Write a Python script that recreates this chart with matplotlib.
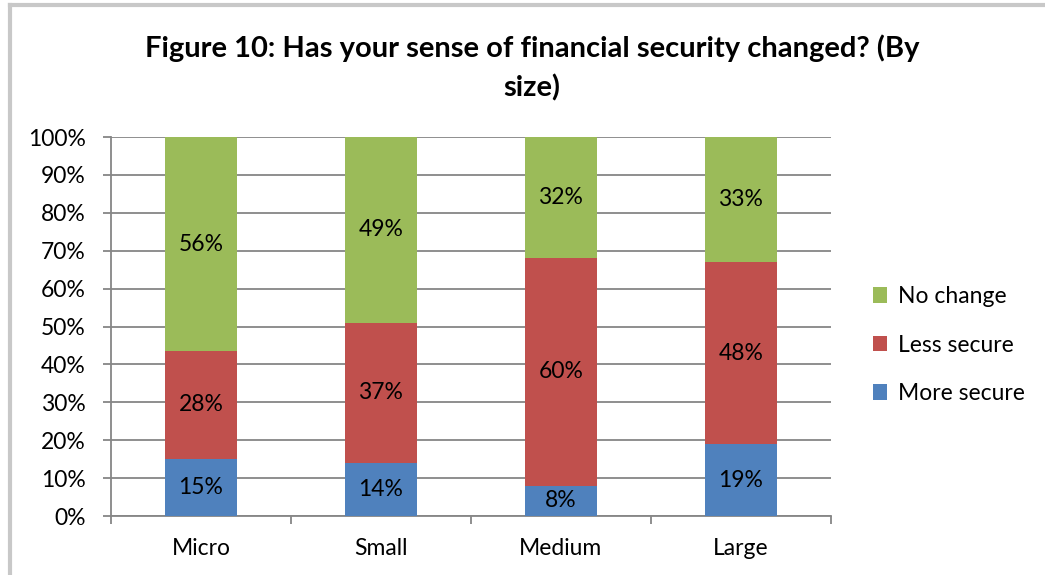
import matplotlib.pyplot as plt
from matplotlib.lines import Line2D
import numpy as np

plt.rcParams['font.family'] = ['Lato', 'DejaVu Sans']

sizes = ['Micro', 'Small', 'Medium', 'Large']
more_secure = [15, 14, 8, 19]
less_secure = [28, 37, 60, 48]
no_change = [56, 49, 32, 33]
series = [('More secure', more_secure, '#4F81BD'),
          ('Less secure', less_secure, '#C0504D'),
          ('No change', no_change, '#9BBB59')]
yticks = np.arange(0, 101, 10)

totals = np.sum([s[1] for s in series], axis=0)
x = np.arange(len(sizes))
fs = 16.5

fig = plt.figure(figsize=(10.45, 5.75), dpi=100)
ax = fig.add_axes([0.1062, 0.1026, 0.6888, 0.6591])

bottom = np.zeros(len(sizes))
handles = []
for name, vals, col in series:
    share = np.array(vals) / totals * 100
    bars = ax.bar(x, share, 0.4, bottom=bottom, color=col, label=name, zorder=3)
    handles.append(bars)
    for xi, b, h, v in zip(x, bottom, share, vals):
        ax.text(xi, b + h / 2, f'{v}%', ha='center', va='center',
                fontsize=fs, color='black', zorder=4)
    bottom += share

ax.set_xlim(-0.5, len(sizes) - 0.5)
ax.set_ylim(0, 100)
ax.set_yticks(yticks)
ax.set_yticklabels([f'{t}%' for t in yticks], fontsize=fs)
ax.yaxis.grid(True, color='#868686', linewidth=1.3, zorder=0)
ax.set_xticks(x)
ax.set_xticklabels(sizes, fontsize=fs)
ax.set_xticks(np.arange(-0.5, len(sizes)), minor=True)
ax.tick_params(axis='x', which='major', length=0, pad=16)
ax.tick_params(axis='x', which='minor', length=6, width=1.3, color='#868686')
ax.tick_params(axis='y', length=6, width=1.3, color='#868686', pad=12)
for side in ['top', 'right']:
    ax.spines[side].set_visible(False)
for side in ['left', 'bottom']:
    ax.spines[side].set_color('#868686')
    ax.spines[side].set_linewidth(1.3)

ax.legend(handles[::-1], [h.get_label() for h in handles[::-1]],
          loc='center left', bbox_to_anchor=(0.835, 0.40),
          bbox_transform=fig.transFigure, frameon=False, fontsize=fs,
          borderpad=0, borderaxespad=0,
          handlelength=0.65, handleheight=0.65, handletextpad=0.45,
          labelspacing=1.2)

fig.text(0.509, 0.916, 'Figure 10: Has your sense of financial security changed? (By',
         ha='center', va='center', fontsize=21, fontweight='bold')
fig.text(0.509, 0.847, 'size)', ha='center', va='center', fontsize=21,
         fontweight='bold')

# chart frame edges
fig.add_artist(Line2D([0.0096, 1.0], [0.991, 0.991], color='#c8c8c8', linewidth=3))
fig.add_artist(Line2D([0.0096, 0.0096], [0.0, 0.991], color='#c8c8c8', linewidth=3))

fig.savefig('out.png', dpi=100)
